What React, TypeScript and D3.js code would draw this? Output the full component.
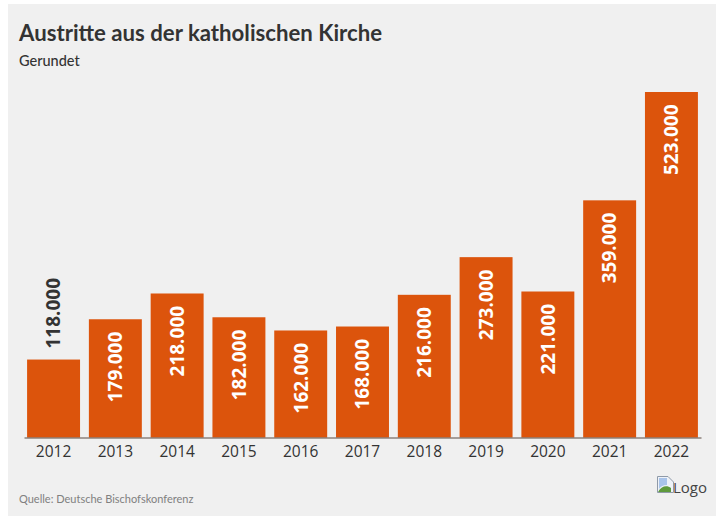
import { useEffect, useRef } from 'react';
import * as d3 from 'd3';

const years = ['2012', '2013', '2014', '2015', '2016', '2017', '2018', '2019', '2020', '2021', '2022'];
const exits = [118000, 179000, 218000, 182000, 162000, 168000, 216000, 273000, 221000, 359000, 523000];

const ORANGE = '#dc540c';
const DARK = '#333333';
const FONT = '"Open Sans", sans-serif';
const LABEL_FONT = 'Lato, sans-serif';

export default function App() {
  const svgRef = useRef<SVGSVGElement>(null);

  useEffect(() => {
    if (!svgRef.current) return;
    const svg = d3.select(svgRef.current);
    svg.selectAll('*').remove();

    const width = 720;
    const height = 516;
    const baseline = 437.5;

    svg.append('rect')
      .attr('x', 8).attr('y', 4)
      .attr('width', 708).attr('height', 512)
      .attr('fill', '#f0f0f0');

    const xScale = d3.scaleBand<string>()
      .domain(years)
      .range([24, 701])
      .paddingInner(0.143)
      .paddingOuter(0.05);

    const yScale = d3.scaleLinear()
      .domain([0, 523000])
      .range([baseline, 92]);

    // Bars
    const bars = svg.selectAll('.bar')
      .data(years)
      .enter()
      .append('g')
      .attr('class', 'bar');

    bars.append('rect')
      .attr('x', d => xScale(d)!)
      .attr('y', (_, i) => yScale(exits[i]))
      .attr('width', xScale.bandwidth())
      .attr('height', (_, i) => baseline - yScale(exits[i]))
      .attr('fill', ORANGE);

    // Value labels, the 2012 bar is too short so its label sits above
    const fmt = (v: number) => d3.format(',')(v).replace(/,/g, '.');
    bars.append('text')
      .attr('transform', (d, i) => {
        const cx = xScale(d)! + xScale.bandwidth() / 2;
        const y = exits[i] < 150000 ? yScale(exits[i]) - 11 : yScale(exits[i]) + 83;
        return `translate(${cx},${y}) rotate(-90)`;
      })
      .attr('dy', '0.36em')
      .attr('text-anchor', 'start')
      .attr('font-family', FONT)
      .attr('font-size', '19px')
      .attr('font-weight', '700')
      .attr('fill', (_, i) => (exits[i] < 150000 ? DARK : '#ffffff'))
      .text((_, i) => fmt(exits[i]));

    // Axis
    const axis = svg.append('g')
      .attr('transform', `translate(0,${baseline})`)
      .call(d3.axisBottom(xScale).tickSize(0).tickPadding(8));
    axis.select('.domain').attr('stroke', '#5a4a42').attr('stroke-width', 1);
    axis.selectAll('.tick text')
      .attr('fill', DARK)
      .attr('font-family', FONT)
      .attr('font-size', '15.5px');

    // Title block
    svg.append('text')
      .attr('x', 19).attr('y', 41)
      .attr('font-family', LABEL_FONT)
      .attr('font-size', '22.2px')
      .attr('font-weight', '700')
      .attr('fill', DARK)
      .text('Austritte aus der katholischen Kirche');

    svg.append('text')
      .attr('x', 19).attr('y', 66)
      .attr('font-family', LABEL_FONT)
      .attr('font-size', '14.5px')
      .attr('font-weight', '500')
      .attr('fill', DARK)
      .text('Gerundet');

    svg.append('text')
      .attr('x', 19).attr('y', 503)
      .attr('font-family', LABEL_FONT)
      .attr('font-size', '11px')
      .attr('fill', '#808080')
      .text('Quelle: Deutsche Bischofskonferenz');

    // Broken logo placeholder
    const logo = svg.append('g').attr('transform', 'translate(657,476)');
    logo.append('path')
      .attr('d', 'M0.5,0.5 H11 L16.5,6 V16.5 H0.5 Z')
      .attr('fill', '#eef2f8')
      .attr('stroke', '#8f9aa8');
    logo.append('path')
      .attr('d', 'M1,16 C4,10 10,9 14,12 L14,16 Z')
      .attr('fill', '#5f9a3c');
    logo.append('path')
      .attr('d', 'M2,2 H10 V9 C6,9 3,11 2,13 Z')
      .attr('fill', '#a9c4ea');

    svg.append('text')
      .attr('x', 673).attr('y', 493)
      .attr('font-family', '"Open Sans", sans-serif')
      .attr('font-size', '15px')
      .attr('fill', '#444444')
      .text('Logo');

    svg.attr('width', width).attr('height', height);
  }, []);

  return (
    <svg
      ref={svgRef}
      style={{ position: 'absolute', left: 0, top: 0, display: 'block', background: '#ffffff' }}
    />
  );
}
